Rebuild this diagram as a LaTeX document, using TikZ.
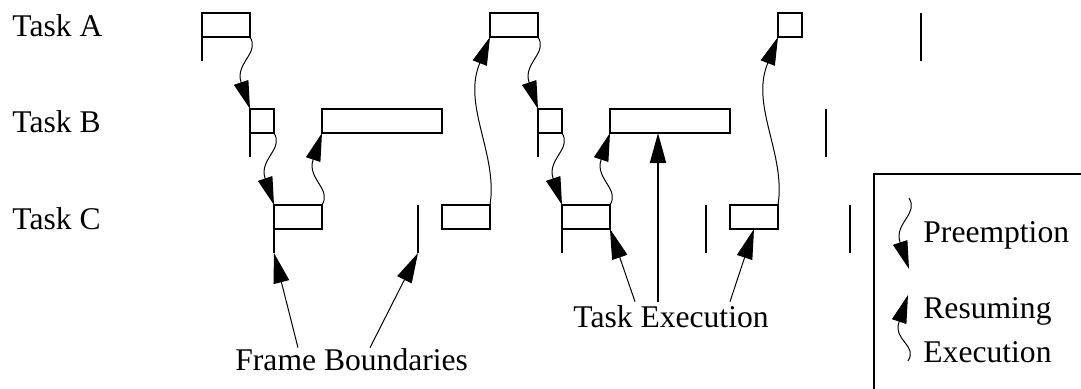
\documentclass[tikz,border=0pt]{standalone}
\usepackage{fontspec}
\setmainfont{Liberation Serif}
\usepackage{tikz}
\usetikzlibrary{calc,arrows.meta}
\def\preempt(#1)(#2){\draw[wavy] (#1) .. controls +(10,16) and +(-6,-19) .. ($(#2)+(-9,-27)$) -- (#2);}
\def\resume(#1)(#2){\draw[wavy] (#1) .. controls +(10,-16) and +(-6,19) .. ($(#2)+(-9,27)$) -- (#2);}
\def\resumelong(#1)(#2){\draw[wavy] (#1) .. controls +(8,-50) and +(-16,42) .. ($(#2)+(-11,28)$) -- (#2);}

\begin{document}
\begin{tikzpicture}[x=0.5pt, y=-0.5pt,
		job/.style={draw, line width=1pt, inner sep=0pt, outer sep=0pt, minimum height=12pt, anchor=north west},
		bound/.style={line width=1pt},
		wavy/.style={line width=0.5pt, -{Triangle[length=14pt, width=7.5pt]}},
		pointer/.style={line width=0.5pt, -{Triangle[length=15pt, width=8pt]}},
		txt/.style={font=\fontsize{15.8}{19}\selectfont, inner sep=0pt, anchor=base west}]
			%%%%% START %%%%%
			
			\useasboundingbox (0,0) rectangle (1081,388);
			
			\node[txt] (ta) at (12,36) {Task A};
			\node[txt] (tb) at (12,132) {Task B};
			\node[txt] (tc) at (12,229) {Task C};
			
			\node[job, minimum width=24pt] (a1) at (202,13) {};
			\node[job, minimum width=24pt] (a2) at (490,13) {};
			\node[job, minimum width=12pt] (a3) at (778,13) {};
			\draw[bound] (a1.north west) -- ++(0,48);
			\draw[bound] (921,13) -- ++(0,48);
			
			\node[job, minimum width=12pt] (b1) at (250,109) {};
			\node[job, minimum width=60pt] (b2) at (322,109) {};
			\node[job, minimum width=12pt] (b3) at (538,109) {};
			\node[job, minimum width=60pt] (b4) at (610,109) {};
			\draw[bound] (b1.north west) -- ++(0,48);
			\draw[bound] (b3.north west) -- ++(0,48);
			\draw[bound] (826,109) -- ++(0,48);
			
			\node[job, minimum width=24pt] (c1) at (274,205) {};
			\node[job, minimum width=24pt] (c2) at (442,205) {};
			\node[job, minimum width=24pt] (c3) at (562,205) {};
			\node[job, minimum width=24pt] (c4) at (730,205) {};
			\draw[bound] (c1.north west) -- ++(0,48) coordinate (f1);
			\draw[bound] (418,205) -- ++(0,48) coordinate (f2);
			\draw[bound] (c3.north west) -- ++(0,48);
			\draw[bound] (706,205) -- ++(0,48);
			\draw[bound] (850,205) -- ++(0,48);
			
			\preempt(a1.south east)(b1.north west);
			\preempt(b1.south east)(c1.north west);
			\resume(c1.north east)(b2.south west);
			\resumelong(c2.north east)(a2.south west);
			\preempt(a2.south east)(b3.north west);
			\preempt(b3.south east)(c3.north west);
			\resume(c3.north east)(b4.south west);
			\resumelong(c4.north east)(a3.south west);
			
			\node[txt] (fb) at (235,370) {Frame Boundaries};
			\draw[pointer] ($(fb.north west)+(63,0)$) -- (f1);
			\draw[pointer] ($(fb.north west)+(135,0)$) -- (f2);
			
			\node[txt] (te) at (573,327) {Task Execution};
			\coordinate (b4x) at ($(b4.south west)+(48,0)$);
			\draw[pointer] ($(te.north west)+(62,-3)$) -- (c3.south east);
			\draw[pointer, line width=1pt] ($(te.north west)+(85,-3)$) -- (b4x);
			\draw[pointer] ($(te.north west)+(157,-3)$) -- (c4.south);
			
			\draw[bound] (1090,174) -| (874,400);
			\coordinate (lp) at (909,198);
			\coordinate (lq) at (909,269);
			\preempt(lp)(lq);
			\node[txt] (lpre) at (923,242) {Preemption};
			\coordinate (lr) at (908,361);
			\coordinate (ls) at (908,295);
			\resume(lr)(ls);
			\node[txt] (lres) at (923,318) {Resuming};
			\node[txt] (lexe) at (923,362) {Execution};
			
			%%%%% END %%%%%
\end{tikzpicture}
\end{document}
